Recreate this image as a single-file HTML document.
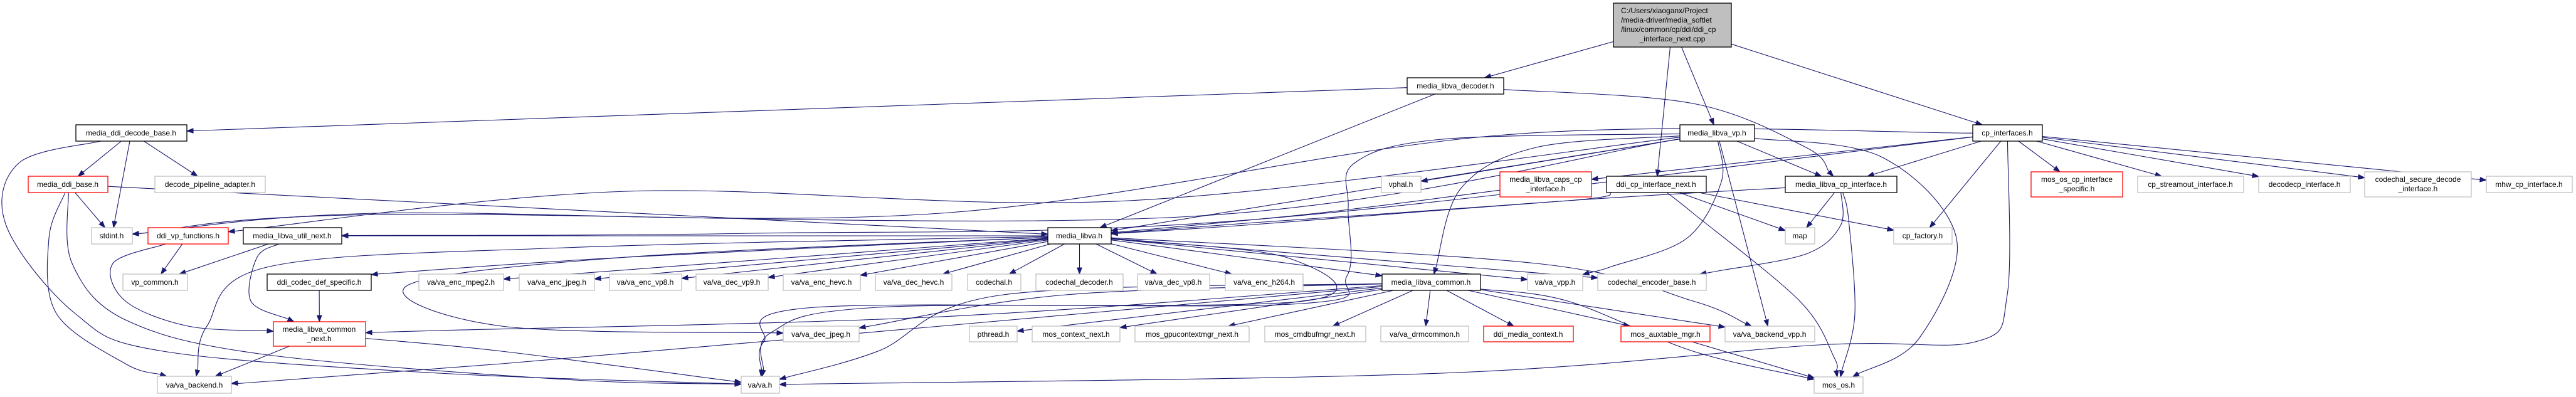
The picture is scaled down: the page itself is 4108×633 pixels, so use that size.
<!DOCTYPE html>
<html><head><meta charset="utf-8"><style>
html,body{margin:0;padding:0;background:#fff;}
svg{display:block;}
text{font-family:"Liberation Sans",Arial,sans-serif;font-size:12px;fill:#000;}
.b{fill:#fff;stroke:#000;stroke-width:1.3;}
.r{fill:#fff;stroke:#ff0000;stroke-width:1.3;}
.g{fill:#fff;stroke:#bfbfbf;stroke-width:1.3;}
.e{fill:none;stroke:#191970;stroke-width:1.1;}
.a{fill:#191970;stroke:#191970;stroke-width:1;}
</style></head><body>
<svg id="s" width="4108" height="633" viewBox="0 0 4108 633" xmlns="http://www.w3.org/2000/svg">
<rect width="4108" height="633" fill="#fff"/>
<g id="edges"></g>
<g id="nodes" text-anchor="middle">
<rect id="top" x="2573" y="5" width="188" height="70" fill="#bfbfbf" stroke="#000" stroke-width="1.3"/>
<text x="2585" y="21" text-anchor="start">C:/Users/xiaoganx/Project</text>
<text x="2585" y="36" text-anchor="start">/media-driver/media_softlet</text>
<text x="2585" y="51" text-anchor="start">/linux/common/cp/ddi/ddi_cp</text>
<text x="2667" y="66">_interface_next.cpp</text>

<rect id="dec" class="b" x="2244" y="124" width="154" height="26"/><text x="2321" y="141">media_libva_decoder.h</text>

<rect id="mddb" class="b" x="121" y="199" width="177" height="26"/><text x="209" y="216">media_ddi_decode_base.h</text>
<rect id="vp" class="b" x="2679" y="199" width="119" height="26"/><text x="2738" y="216">media_libva_vp.h</text>
<rect id="cpi" class="b" x="3146" y="199" width="111" height="26"/><text x="3201" y="216">cp_interfaces.h</text>

<rect id="mdb" class="r" x="45" y="281" width="127" height="26"/><text x="108" y="298">media_ddi_base.h</text>
<rect id="dpa" class="g" x="247" y="281" width="176" height="26"/><text x="335" y="298">decode_pipeline_adapter.h</text>
<rect id="vphal" class="g" x="2203" y="281" width="63" height="26"/><text x="2234" y="298">vphal.h</text>
<rect id="caps" class="r" x="2392" y="274" width="146" height="40"/><text x="2465" y="290">media_libva_caps_cp</text><text x="2465" y="305">_interface.h</text>
<rect id="dcin" class="b" x="2562" y="281" width="159" height="26"/><text x="2641" y="298">ddi_cp_interface_next.h</text>
<rect id="lcp" class="b" x="2847" y="281" width="178" height="26"/><text x="2936" y="298">media_libva_cp_interface.h</text>
<rect id="moscp" class="r" x="3239" y="274" width="146" height="40"/><text x="3312" y="290">mos_os_cp_interface</text><text x="3312" y="305">_specific.h</text>
<rect id="cps" class="g" x="3409" y="281" width="169" height="26"/><text x="3493" y="298">cp_streamout_interface.h</text>
<rect id="dcp" class="g" x="3602" y="281" width="146" height="26"/><text x="3675" y="298">decodecp_interface.h</text>
<rect id="csd" class="g" x="3771" y="274" width="170" height="40"/><text x="3856" y="290">codechal_secure_decode</text><text x="3856" y="305">_interface.h</text>
<rect id="mhw" class="g" x="3965" y="281" width="137" height="26"/><text x="4033" y="298">mhw_cp_interface.h</text>

<rect id="stdint" class="g" x="146" y="363" width="65" height="26"/><text x="178" y="380">stdint.h</text>
<rect id="dvf" class="r" x="236" y="363" width="128" height="26"/><text x="300" y="380">ddi_vp_functions.h</text>
<rect id="lun" class="b" x="388" y="363" width="157" height="26"/><text x="466" y="380">media_libva_util_next.h</text>
<rect id="libva" class="b" x="1671" y="363" width="101" height="26"/><text x="1721" y="380">media_libva.h</text>
<rect id="map" class="g" x="2847" y="363" width="47" height="26"/><text x="2870" y="380">map</text>
<rect id="cpf" class="g" x="3020" y="363" width="93" height="26"/><text x="3066" y="380">cp_factory.h</text>

<rect id="vpc" class="g" x="196" y="437" width="103" height="26"/><text x="247" y="454">vp_common.h</text>
<rect id="dcd" class="b" x="426" y="437" width="166" height="26"/><text x="509" y="454">ddi_codec_def_specific.h</text>
<rect id="mpeg2" class="g" x="668" y="437" width="135" height="26"/><text x="735" y="454">va/va_enc_mpeg2.h</text>
<rect id="jpeg" class="g" x="828" y="437" width="120" height="26"/><text x="888" y="454">va/va_enc_jpeg.h</text>
<rect id="encvp8" class="g" x="972" y="437" width="115" height="26"/><text x="1029" y="454">va/va_enc_vp8.h</text>
<rect id="decvp9" class="g" x="1110" y="437" width="115" height="26"/><text x="1167" y="454">va/va_dec_vp9.h</text>
<rect id="enchevc" class="g" x="1249" y="437" width="123" height="26"/><text x="1310" y="454">va/va_enc_hevc.h</text>
<rect id="dechevc" class="g" x="1396" y="437" width="122" height="26"/><text x="1457" y="454">va/va_dec_hevc.h</text>
<rect id="codechal" class="g" x="1543" y="437" width="85" height="26"/><text x="1585" y="454">codechal.h</text>
<rect id="codecdec" class="g" x="1652" y="437" width="139" height="26"/><text x="1721" y="454">codechal_decoder.h</text>
<rect id="decvp8" class="g" x="1814" y="437" width="115" height="26"/><text x="1871" y="454">va/va_dec_vp8.h</text>
<rect id="h264" class="g" x="1954" y="437" width="124" height="26"/><text x="2016" y="454">va/va_enc_h264.h</text>
<rect id="lc" class="b" x="2204" y="437" width="157" height="26"/><text x="2282" y="454">media_libva_common.h</text>
<rect id="vpp" class="g" x="2436" y="437" width="88" height="26"/><text x="2480" y="454">va/va_vpp.h</text>
<rect id="ceb" class="g" x="2548" y="437" width="173" height="26"/><text x="2634" y="454">codechal_encoder_base.h</text>

<rect id="lcn" class="r" x="436" y="513" width="147" height="39"/><text x="509" y="529">media_libva_common</text><text x="509" y="544">_next.h</text>
<rect id="djpeg" class="g" x="1249" y="520" width="121" height="25"/><text x="1309" y="537">va/va_dec_jpeg.h</text>
<rect id="pthread" class="g" x="1546" y="520" width="76" height="25"/><text x="1584" y="537">pthread.h</text>
<rect id="mcn" class="g" x="1646" y="520" width="140" height="25"/><text x="1716" y="537">mos_context_next.h</text>
<rect id="mgcm" class="g" x="1810" y="520" width="182" height="25"/><text x="1901" y="537">mos_gpucontextmgr_next.h</text>
<rect id="mcbm" class="g" x="2017" y="520" width="161" height="25"/><text x="2097" y="537">mos_cmdbufmgr_next.h</text>
<rect id="drm" class="g" x="2202" y="520" width="140" height="25"/><text x="2272" y="537">va/va_drmcommon.h</text>
<rect id="dmc" class="r" x="2366" y="520" width="143" height="25"/><text x="2437" y="537">ddi_media_context.h</text>
<rect id="aux" class="r" x="2585" y="520" width="142" height="25"/><text x="2656" y="537">mos_auxtable_mgr.h</text>
<rect id="bvpp" class="g" x="2751" y="520" width="143" height="25"/><text x="2822" y="537">va/va_backend_vpp.h</text>

<rect id="backend" class="g" x="251" y="600" width="118" height="27"/><text x="310" y="618">va/va_backend.h</text>
<rect id="vah" class="g" x="1182" y="600" width="61" height="27"/><text x="1212" y="618">va/va.h</text>
<rect id="mosos" class="g" x="2893" y="601" width="78" height="26"/><text x="2932" y="618">mos_os.h</text>
</g>
</svg>
<script>
(function(){
var NS="http://www.w3.org/2000/svg";
function box(id){var r=document.getElementById(id);var x=+r.getAttribute('x'),y=+r.getAttribute('y'),w=+r.getAttribute('width'),h=+r.getAttribute('height');return {x:x,y:y,w:w,h:h,cx:x+w/2,cy:y+h/2};}
function clip(b,q){var dx=q[0]-b.cx,dy=q[1]-b.cy;if(dx===0&&dy===0)return [b.cx,b.cy];var tx=dx!==0?(b.w/2)/Math.abs(dx):1e9,ty=dy!==0?(b.h/2)/Math.abs(dy):1e9;var t=Math.min(tx,ty);return [b.cx+dx*t,b.cy+dy*t];}
var E=[
['top','dec'],['top','dcin'],['top','vp'],['top','cpi'],
['dec','mddb'],['dec','libva'],['dec','lcp',[[2700,165],[2880,235]]],
['mddb','mdb'],['mddb','stdint'],['mddb','dpa'],['mddb','vah',[[30,260],[10,360],[120,500],[260,560],[700,595]]],
['mdb','stdint'],['mdb','backend',[[78,380],[90,500],[200,580]]],['mdb','vah',[[115,420],[200,510],[420,565],[900,605]]],['mdb','libva'],
['vp','dvf',[[1800,320],[1000,305]]],['vp','stdint',[[1900,345],[600,342]]],['vp','libva'],['vp','vphal'],['vp','lcp'],
['vp','lc',[[2450,235],[2330,300]]],['vp','bvpp'],['vp','mosos',[[3000,250],[3120,380],[3060,540]]],['vp','vpp',[[2745,290],[2690,380],[2570,425]]],
['vp','vah',[[2300,222],[2160,260],[2150,330],[2148,440],[2060,485],[1300,490],[1218,545]]],
['cpi','lun',[[2000,350],[1200,372]]],['cpi','caps'],['cpi','lcp'],['cpi','cpf'],['cpi','vah',[[3201,470],[3150,545],[2900,550],[2300,595]]],
['cpi','moscp'],['cpi','cps'],['cpi','dcp'],['cpi','csd'],['cpi','mhw'],['cpi','stdint',[[2400,215],[1500,340],[600,340]]],
['dcin','libva',[[2500,320],[2000,355]]],['dcin','map'],['dcin','cpf'],['dcin','mosos',[[2700,340],[2870,480],[2925,570]]],
['lcp','libva',[[2500,320],[2000,358]]],['lcp','map'],['lcp','ceb',[[2935,360],[2880,405],[2740,432]]],['lcp','mosos',[[2948,350],[2958,500]]],
['caps','libva',[[2100,340]]],
['libva','lun'],['libva','dcd',[[1000,410],[600,437]]],['libva','mpeg2'],['libva','jpeg'],['libva','encvp8'],['libva','decvp9'],['libva','enchevc'],['libva','dechevc'],['libva','codechal'],['libva','codecdec'],['libva','decvp8'],['libva','h264'],['libva','lc'],['libva','vpp'],['libva','ceb'],
['libva','backend',[[900,395],[430,425],[330,520]]],['libva','djpeg',[[1000,410],[650,455],[800,520]]],['libva','bvpp',[[2450,420],[2700,480]]],['libva','vah',[[2050,410],[2080,480],[1400,490],[1230,530]]],
['lc','lcn',[[1500,505],[700,527]]],['lc','backend',[[1500,520],[800,580],[400,610]]],['lc','vah',[[1600,470],[1400,560]]],['lc','djpeg',[[1700,470]]],
['lc','pthread'],['lc','mcn'],['lc','mgcm'],['lc','mcbm'],['lc','drm'],['lc','dmc'],['lc','aux'],['lc','bvpp'],['lc','mosos',[[2500,480],[2700,560]]],
['lun','vpc'],['lun','lcn',[[410,410],[400,480]]],['dvf','vpc'],['dvf','lcn',[[180,420],[200,480],[300,520]]],['dcd','lcn'],
['lcn','backend'],['lcn','vah',[[800,560]]],['aux','mosos']
];
var g=document.getElementById('edges');var out='';
E.forEach(function(e){
 var a=box(e[0]),b=box(e[1]),w=e[2]||[];
 var first=w.length?w[0]:[b.cx,b.cy],last=w.length?w[w.length-1]:[a.cx,a.cy];
 var s=clip(a,first),t=clip(b,last);
 var pts=[s].concat(w).concat([t]);
 var p=pts[pts.length-2];var dx=t[0]-p[0],dy=t[1]-p[1],L=Math.sqrt(dx*dx+dy*dy)||1;dx/=L;dy/=L;
 var al=10,aw=3.6;var base=[t[0]-dx*al,t[1]-dy*al];
 pts[pts.length-1]=base;
 var d='M'+pts[0][0].toFixed(1)+','+pts[0][1].toFixed(1);
 for(var i=0;i<pts.length-1;i++){
  var p0=pts[i-1]||pts[i],p1=pts[i],p2=pts[i+1],p3=pts[i+2]||pts[i+1];
  var c1=[p1[0]+(p2[0]-p0[0])/6,p1[1]+(p2[1]-p0[1])/6],c2=[p2[0]-(p3[0]-p1[0])/6,p2[1]-(p3[1]-p1[1])/6];
  d+=' C'+c1[0].toFixed(1)+','+c1[1].toFixed(1)+' '+c2[0].toFixed(1)+','+c2[1].toFixed(1)+' '+p2[0].toFixed(1)+','+p2[1].toFixed(1);
 }
 out+='<path class="e" d="'+d+'"/>';
 var nx=-dy,ny=dx;
 out+='<polygon class="a" points="'+t[0].toFixed(1)+','+t[1].toFixed(1)+' '+(base[0]+nx*aw).toFixed(1)+','+(base[1]+ny*aw).toFixed(1)+' '+(base[0]-nx*aw).toFixed(1)+','+(base[1]-ny*aw).toFixed(1)+'"/>';
});
g.innerHTML=out;
})();
</script>
</body></html>
